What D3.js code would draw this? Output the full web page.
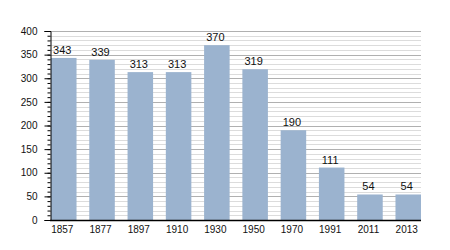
<!DOCTYPE html>
<html>
<head>
<meta charset="utf-8">
<script src="https://cdn.jsdelivr.net/npm/d3@7"></script>
<style>
  body { margin: 0; background: #fff; }
  text { font-family: "Liberation Sans", Arial, sans-serif; font-size: 10px; fill: #111; }
</style>
</head>
<body>
<div id="chart"></div>
<script>
var years = ['1857', '1877', '1897', '1910', '1930', '1950', '1970', '1991', '2011', '2013'];
var population = [343, 339, 313, 313, 370, 319, 190, 111, 54, 54];
var yMajorTicks = [0, 50, 100, 150, 200, 250, 300, 350, 400];

var width = 450, height = 250;
var plotLeft = 50, plotRight = 421, plotTop = 31, plotBottom = 220;

var svg = d3.select('#chart').append('svg')
  .attr('width', width)
  .attr('height', height);

var x = d3.scaleBand()
  .domain(years)
  .range([plotLeft + 1, plotRight])
  .paddingInner(0.333)
  .paddingOuter(0);

var y = d3.scaleLinear()
  .domain([0, 400])
  .range([plotBottom, plotTop]);

var minorTicks = d3.range(0, 401, 10);

// grid
var grid = svg.append('g').attr('class', 'grid');
grid.selectAll('line.minor').data(minorTicks.filter(function(d) { return d % 50 !== 0; }))
  .enter().append('line')
  .attr('class', 'minor')
  .attr('x1', plotLeft).attr('x2', plotRight)
  .attr('y1', function(d) { return Math.round(y(d)) + 0.5; })
  .attr('y2', function(d) { return Math.round(y(d)) + 0.5; })
  .attr('stroke', '#dcdcdc');
grid.selectAll('line.major').data(yMajorTicks.filter(function(d) { return d > 0; }))
  .enter().append('line')
  .attr('class', 'major')
  .attr('x1', plotLeft).attr('x2', plotRight)
  .attr('y1', function(d) { return Math.round(y(d)) + 0.5; })
  .attr('y2', function(d) { return Math.round(y(d)) + 0.5; })
  .attr('stroke', '#b0b0b0');

// bars
svg.append('g').selectAll('rect').data(population)
  .enter().append('rect')
  .attr('x', function(d, i) { return x(years[i]); })
  .attr('y', function(d) { return y(d); })
  .attr('width', x.bandwidth())
  .attr('height', function(d) { return y(0) - y(d); })
  .attr('fill', '#9bb3cf');

// value labels
svg.append('g').selectAll('text').data(population)
  .enter().append('text')
  .attr('x', function(d, i) { return x(years[i]) + x.bandwidth() / 2 - 1.5; })
  .attr('y', function(d) { return y(d) - 4; })
  .attr('text-anchor', 'middle')
  .style('font-size', '11px')
  .text(function(d) { return d; });

// y axis
var yAxis = svg.append('g')
  .attr('transform', 'translate(' + (plotLeft + 0.5) + ',0)');
yAxis.append('g')
  .call(d3.axisLeft(y).tickValues(minorTicks).tickSize(3).tickFormat(''))
  .call(function(g) { g.select('.domain').remove(); });
yAxis.append('g')
  .call(d3.axisLeft(y).tickValues(yMajorTicks).tickSize(6).tickPadding(7))
  .call(function(g) {
    g.select('.domain').attr('stroke', '#000');
    g.selectAll('text').style('font-size', '10px').attr('fill', '#111');
  });

// x axis
var xAxis = svg.append('g')
  .attr('transform', 'translate(0,' + (plotBottom + 0.5) + ')')
  .call(d3.axisBottom(x).tickSize(0).tickPadding(5))
  .call(function(g) {
    g.select('.domain').attr('d', 'M' + plotLeft + ',0H' + plotRight).attr('stroke', '#000').attr('stroke-width', 1.5);
    g.selectAll('text').style('font-size', '10px').attr('fill', '#111').attr('dx', -1.5);
  });
</script>
</body>
</html>
